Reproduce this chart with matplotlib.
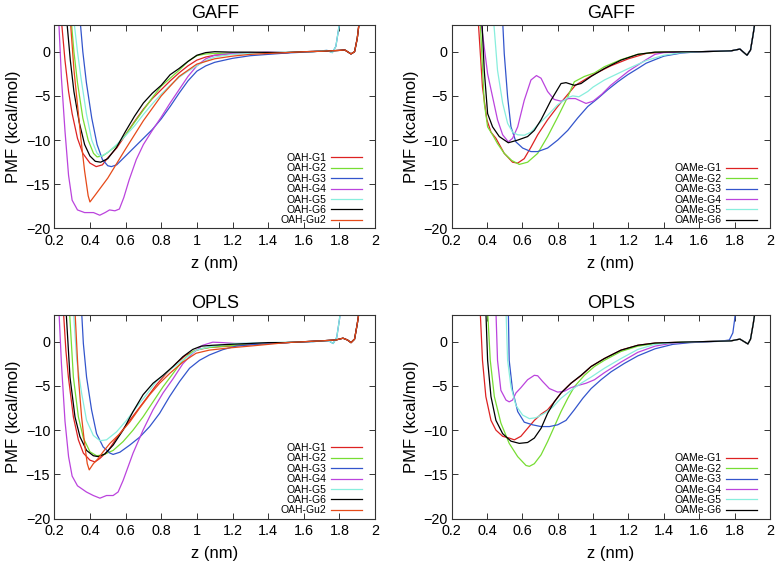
import matplotlib.pyplot as plt

plt.rcParams['font.family'] = ['Liberation Sans', 'DejaVu Sans']

# colours of the guests (gnuplot-like)
colors = ['#dd2222', '#77dd33', '#3355cc', '#bb44dd', '#88eedd', '#000000', '#e64a19']

# ---- GAFF / OAH ----
gaff_oah_g1 = [(0.24, 3.5), (0.26, -1), (0.28, -4.5), (0.30, -7), (0.33, -9.8), (0.36, -11.5), (0.40, -12.6),
               (0.435, -13.0), (0.47, -12.8), (0.50, -12.0), (0.55, -10.9), (0.60, -9.4), (0.65, -7.9), (0.70, -6.5),
               (0.75, -5.3), (0.80, -4.3), (0.85, -3.3), (0.90, -2.4), (0.95, -1.6), (1.00, -0.95), (1.05, -0.6),
               (1.10, -0.4), (1.20, -0.25), (1.30, -0.15)]
gaff_oah_g2 = [(0.295, 3.5), (0.31, 0), (0.33, -3.5), (0.36, -7.5), (0.39, -10), (0.42, -11.5), (0.44, -11.9),
               (0.47, -11.8), (0.50, -11.4), (0.55, -10.6), (0.60, -9.4), (0.65, -8.0), (0.70, -6.6), (0.75, -5.2),
               (0.80, -3.9), (0.85, -3.0), (0.90, -2.1), (0.95, -1.1), (1.00, -0.45), (1.05, -0.25), (1.10, -0.2),
               (1.20, -0.15), (1.30, -0.1)]
gaff_oah_g3 = [(0.345, 3.5), (0.36, 0), (0.38, -3.5), (0.41, -7.5), (0.44, -10.5), (0.47, -12.2), (0.50, -12.9),
               (0.52, -13.0), (0.55, -12.8), (0.60, -11.8), (0.65, -10.8), (0.70, -9.8), (0.75, -8.8), (0.80, -7.6),
               (0.85, -6.2), (0.90, -4.7), (0.95, -3.3), (1.00, -2.2), (1.05, -1.6), (1.10, -1.2), (1.20, -0.75),
               (1.30, -0.45), (1.40, -0.3), (1.50, -0.15), (1.60, -0.05)]
gaff_oah_g4 = [(0.225, 3.5), (0.24, -3), (0.26, -9), (0.28, -14), (0.30, -16.8), (0.33, -17.9), (0.37, -18.2),
               (0.42, -18.2), (0.455, -18.5), (0.485, -18.2), (0.51, -17.9), (0.54, -18.0), (0.565, -17.8),
               (0.59, -16.5), (0.62, -14.5), (0.66, -12.2), (0.70, -10.5), (0.75, -8.9), (0.80, -7.4), (0.85, -5.8),
               (0.90, -4.3), (0.95, -2.8), (1.00, -1.6), (1.05, -0.8), (1.10, -0.4), (1.20, -0.2), (1.40, -0.05)]
gaff_oah_g5 = [(0.31, 3.5), (0.33, 0), (0.35, -3), (0.38, -7), (0.41, -10), (0.44, -11.5), (0.46, -11.85),
               (0.50, -11.4), (0.55, -10.5), (0.60, -9.5), (0.65, -8.4), (0.70, -7.1), (0.75, -5.9), (0.80, -4.8),
               (0.85, -3.8), (0.90, -2.9), (0.95, -2.2), (1.00, -1.6), (1.05, -1.0), (1.10, -0.6), (1.20, -0.3),
               (1.40, -0.1), (1.60, 0.0)]
gaff_oah_g6 = [(0.27, 3.5), (0.29, -1), (0.31, -4.5), (0.34, -8), (0.37, -10.5), (0.40, -11.8), (0.43, -12.4),
               (0.46, -12.5), (0.50, -12.1), (0.55, -10.8), (0.60, -9.0), (0.65, -7.3), (0.70, -5.8), (0.75, -4.7),
               (0.80, -3.8), (0.85, -2.6), (0.90, -1.9), (0.95, -1.1), (1.00, -0.4), (1.05, -0.1), (1.10, 0.0),
               (1.20, -0.05), (1.30, -0.05)]
gaff_oah_gu2 = [(0.29, 3.5), (0.31, -2), (0.33, -6), (0.35, -10), (0.37, -13.5), (0.39, -16.3), (0.40, -17.0),
                (0.43, -16.2), (0.50, -14.3), (0.60, -11.0), (0.70, -7.8), (0.80, -5.0), (0.90, -2.8), (1.00, -1.4),
                (1.10, -0.8), (1.20, -0.5), (1.30, -0.3), (1.40, -0.2)]
gaff_oah_tail = [(1.5, -0.1), (1.6, 0.0), (1.7, 0.05), (1.75, 0.1), (1.8, 0.15), (1.83, 0.2), (1.865, -0.25),
                 (1.885, 0.0), (1.9, 1.5), (1.915, 4.0)]
gaff_oah_wall = [(1.65, 0.0), (1.7, 0.1), (1.73, 0.15), (1.76, -0.1), (1.78, 0.6), (1.795, 2.5), (1.81, 4.5)]

# ---- GAFF / OAMe ----
gaff_oame_g1 = [(0.351, 3.5), (0.375, -4.0), (0.40, -7.7), (0.423, -9.1), (0.451, -9.8), (0.498, -11.5),
                (0.545, -12.5), (0.574, -12.6), (0.611, -12.1), (0.649, -10.8), (0.687, -9.4), (0.743, -7.7),
                (0.80, -6.2), (0.85, -5.0), (0.90, -3.8), (1.00, -2.6), (1.10, -1.6), (1.20, -0.8), (1.30, -0.2),
                (1.40, -0.05)]
gaff_oame_g2 = [(0.362, 3.5), (0.385, -5.8), (0.404, -8.5), (0.432, -9.4), (0.46, -10.4), (0.498, -11.5),
                (0.54, -12.3), (0.583, -12.75), (0.63, -12.5), (0.687, -11.5), (0.743, -9.6), (0.80, -7.4),
                (0.857, -5.1), (0.894, -3.4), (0.951, -2.8), (1.008, -2.4), (1.064, -1.7), (1.158, -0.9),
                (1.253, -0.3), (1.35, -0.05)]
gaff_oame_g3 = [(0.489, 3.5), (0.498, -0.2), (0.517, -5.1), (0.536, -8.5), (0.564, -10.2), (0.602, -10.9),
                (0.649, -11.3), (0.687, -11.3), (0.743, -10.9), (0.80, -10.0), (0.857, -8.9), (0.913, -7.5),
                (0.97, -6.2), (1.026, -5.3), (1.083, -4.3), (1.14, -3.4), (1.196, -2.6), (1.253, -1.9),
                (1.30, -1.3), (1.40, -0.5), (1.50, -0.15)]
gaff_oame_g4 = [(0.366, 3.5), (0.404, -2.5), (0.432, -5.1), (0.46, -7.7), (0.489, -9.4), (0.521, -10.2),
                (0.545, -9.8), (0.574, -8.5), (0.611, -5.5), (0.649, -3.2), (0.68, -2.7), (0.706, -3.0),
                (0.743, -4.5), (0.78, -5.4), (0.82, -5.6), (0.86, -5.3), (0.90, -5.3), (0.96, -5.85), (1.00, -5.6),
                (1.05, -4.8), (1.10, -3.8), (1.20, -2.2), (1.30, -0.9), (1.35, -0.3), (1.40, -0.1)]
gaff_oame_g5 = [(0.438, 3.5), (0.46, -2.1), (0.489, -5.8), (0.517, -8.1), (0.545, -9.1), (0.574, -9.4),
                (0.611, -9.45), (0.649, -9.1), (0.687, -8.3), (0.743, -7.2), (0.80, -6.0), (0.857, -5.2),
                (0.885, -5.0), (0.92, -5.1), (0.97, -4.5), (1.00, -4.0), (1.064, -3.2), (1.158, -2.3), (1.20, -1.9),
                (1.30, -1.0), (1.40, -0.4), (1.50, -0.1)]
gaff_oame_g6 = [(0.372, 3.5), (0.385, -2.1), (0.404, -7.0), (0.432, -8.5), (0.47, -9.6), (0.521, -10.3),
                (0.574, -10.0), (0.63, -9.6), (0.668, -8.9), (0.706, -7.7), (0.762, -5.5), (0.819, -3.6),
                (0.847, -3.5), (0.894, -3.8), (0.932, -3.6), (0.989, -2.8), (1.064, -1.9), (1.158, -0.95),
                (1.253, -0.3), (1.35, -0.05)]
gaff_oame_tail = [(1.6, 0.0), (1.7, 0.05), (1.78, 0.1), (1.83, 0.3), (1.87, -0.4), (1.89, 0.2), (1.905, 2.0),
                  (1.92, 4.0)]

# ---- OPLS / OAH ----
opls_oah_g1 = [(0.251, 3.5), (0.265, -1), (0.279, -4.0), (0.307, -8.5), (0.335, -11.1), (0.363, -12.6),
               (0.40, -13.4), (0.428, -13.6), (0.456, -13.2), (0.503, -12.3), (0.549, -10.9), (0.605, -9.4),
               (0.661, -7.9), (0.717, -6.4), (0.772, -4.9), (0.828, -3.6), (0.884, -2.45), (0.94, -1.5),
               (0.996, -0.95), (1.07, -0.64), (1.182, -0.5), (1.294, -0.35), (1.40, -0.2)]
opls_oah_g2 = [(0.285, 3.5), (0.307, -4.0), (0.335, -8.5), (0.363, -10.9), (0.40, -12.45), (0.437, -12.9),
               (0.474, -12.8), (0.53, -12.3), (0.586, -11.3), (0.642, -10.0), (0.698, -8.5), (0.754, -6.8),
               (0.81, -5.1), (0.866, -3.6), (0.921, -2.1), (0.977, -1.1), (1.033, -0.75), (1.108, -0.57),
               (1.219, -0.4), (1.294, -0.26), (1.40, -0.15)]
opls_oah_g3 = [(0.353, 3.5), (0.363, -0.2), (0.381, -4.0), (0.409, -7.7), (0.437, -10.4), (0.474, -11.9),
               (0.512, -12.6), (0.53, -12.75), (0.568, -12.5), (0.623, -11.7), (0.679, -10.8), (0.735, -9.6),
               (0.791, -8.1), (0.847, -6.2), (0.903, -4.5), (0.959, -3.0), (1.015, -2.1), (1.07, -1.5),
               (1.145, -0.9), (1.219, -0.5), (1.294, -0.35), (1.40, -0.2), (1.55, -0.05)]
opls_oah_g4 = [(0.226, 3.5), (0.24, -2.5), (0.26, -9), (0.28, -13), (0.30, -15.2), (0.33, -16.3), (0.38, -17.0),
               (0.419, -17.4), (0.456, -17.7), (0.493, -17.4), (0.53, -17.4), (0.558, -17.0), (0.586, -15.7),
               (0.642, -12.6), (0.698, -10.0), (0.754, -7.7), (0.81, -5.8), (0.866, -4.2), (0.921, -2.5),
               (0.977, -1.3), (1.033, -0.4), (1.089, -0.05), (1.145, -0.1), (1.219, -0.2), (1.30, -0.2),
               (1.40, -0.1)]
opls_oah_g5 = [(0.307, 3.5), (0.326, -2.1), (0.353, -5.8), (0.381, -8.9), (0.419, -10.6), (0.456, -11.2),
               (0.493, -11.1), (0.549, -10.2), (0.605, -8.9), (0.661, -7.4), (0.717, -6.0), (0.772, -4.5),
               (0.847, -3.2), (0.921, -2.1), (0.996, -0.95), (1.07, -0.57), (1.145, -0.35), (1.219, -0.2),
               (1.40, -0.1), (1.60, 0.0)]
opls_oah_g6 = [(0.266, 3.5), (0.288, -4.0), (0.316, -8.5), (0.344, -10.75), (0.381, -12.3), (0.419, -12.9),
               (0.447, -13.0), (0.484, -12.7), (0.53, -11.7), (0.586, -10.0), (0.642, -7.9), (0.698, -6.0),
               (0.754, -4.7), (0.81, -3.8), (0.866, -2.8), (0.921, -1.7), (0.977, -0.87), (1.024, -0.5),
               (1.089, -0.4), (1.182, -0.3), (1.294, -0.2), (1.40, -0.1)]
opls_oah_gu2 = [(0.316, 3.5), (0.335, -4.0), (0.353, -8.5), (0.372, -11.9), (0.385, -13.8), (0.396, -14.5),
                (0.419, -13.8), (0.447, -13.2), (0.474, -12.45), (0.512, -11.5), (0.568, -10.4), (0.623, -9.1),
                (0.679, -7.5), (0.735, -6.0), (0.791, -4.7), (0.847, -3.6), (0.921, -2.3), (0.996, -1.3),
                (1.07, -0.95), (1.182, -0.7), (1.294, -0.5), (1.40, -0.3)]
opls_oah_tail = [(1.5, -0.1), (1.6, 0.0), (1.7, 0.1), (1.78, 0.2), (1.82, 0.4), (1.845, 0.2), (1.865, -0.1),
                 (1.885, 0.3), (1.9, 2.0), (1.915, 4.0)]
opls_oah_wall = [(1.65, 0.0), (1.7, 0.1), (1.74, 0.1), (1.765, -0.2), (1.785, 0.5), (1.80, 2.5), (1.812, 4.5)]

# ---- OPLS / OAMe ----
opls_oame_g1 = [(0.362, 3.5), (0.375, -2.1), (0.394, -6.2), (0.423, -8.9), (0.451, -10.0), (0.489, -10.7),
                (0.526, -10.9), (0.555, -11.1), (0.592, -10.7), (0.63, -9.8), (0.668, -8.9), (0.706, -8.2),
                (0.743, -7.7), (0.781, -6.8), (0.819, -5.8), (0.875, -4.7), (0.932, -3.85), (0.989, -2.8),
                (1.064, -1.9), (1.158, -0.95), (1.253, -0.4), (1.35, -0.15), (1.50, -0.05)]
opls_oame_g2 = [(0.404, 3.5), (0.419, -2.1), (0.442, -6.2), (0.479, -9.2), (0.526, -11.5), (0.574, -13.0),
                (0.621, -14.0), (0.64, -14.1), (0.668, -13.8), (0.706, -12.8), (0.743, -11.3), (0.781, -9.6),
                (0.819, -7.9), (0.857, -6.4), (0.894, -5.1), (0.951, -3.8), (1.008, -2.8), (1.064, -2.1),
                (1.158, -1.1), (1.253, -0.5), (1.35, -0.2), (1.50, -0.05)]
opls_oame_g3 = [(0.521, 3.5), (0.526, -2.1), (0.545, -5.5), (0.574, -7.9), (0.611, -9.1), (0.658, -9.4),
                (0.706, -9.6), (0.753, -9.6), (0.80, -9.4), (0.847, -8.9), (0.894, -7.7), (0.942, -6.4),
                (0.989, -5.3), (1.045, -4.3), (1.102, -3.4), (1.177, -2.45), (1.253, -1.6), (1.35, -0.8),
                (1.45, -0.3), (1.55, -0.1)]
opls_oame_g4 = [(0.451, 3.5), (0.46, -2.1), (0.479, -5.5), (0.508, -6.6), (0.526, -6.8), (0.545, -6.6),
                (0.564, -5.8), (0.592, -5.2), (0.63, -4.3), (0.668, -3.8), (0.687, -3.85), (0.715, -4.5),
                (0.753, -5.3), (0.80, -5.7), (0.838, -5.6), (0.875, -5.2), (0.923, -4.9), (0.96, -4.7),
                (1.008, -4.3), (1.064, -3.5), (1.158, -2.3), (1.253, -1.2), (1.35, -0.5), (1.45, -0.15)]
opls_oame_g5 = [(0.508, 3.5), (0.517, -2.1), (0.536, -5.1), (0.564, -7.2), (0.602, -8.3), (0.64, -8.7),
                (0.677, -8.6), (0.725, -8.1), (0.772, -7.4), (0.819, -6.4), (0.875, -5.5), (0.932, -4.7),
                (0.989, -4.0), (1.064, -3.0), (1.158, -1.9), (1.253, -0.87), (1.35, -0.3), (1.45, -0.1)]
opls_oame_g6 = [(0.394, 3.5), (0.404, -2.1), (0.423, -6.2), (0.451, -8.9), (0.489, -10.4), (0.536, -11.25),
                (0.583, -11.5), (0.63, -11.4), (0.668, -10.9), (0.706, -9.8), (0.743, -8.1), (0.781, -6.8),
                (0.819, -5.8), (0.875, -4.7), (0.932, -3.8), (0.989, -2.8), (1.064, -1.9), (1.158, -0.95),
                (1.253, -0.4), (1.35, -0.15), (1.50, -0.05)]
opls_oame_tail = [(1.6, 0.0), (1.7, 0.05), (1.78, 0.1), (1.83, 0.3), (1.875, -0.25), (1.89, 0.3), (1.905, 2.0),
                  (1.92, 4.0)]
opls_oame_wall = [(1.65, 0.0), (1.72, 0.05), (1.77, 0.2), (1.79, 1.0), (1.80, 2.5), (1.81, 4.5)]

oah_labels = ['OAH-G1', 'OAH-G2', 'OAH-G3', 'OAH-G4', 'OAH-G5', 'OAH-G6', 'OAH-Gu2']
oame_labels = ['OAMe-G1', 'OAMe-G2', 'OAMe-G3', 'OAMe-G4', 'OAMe-G5', 'OAMe-G6']

panels = [
    ('GAFF', [gaff_oah_g1 + gaff_oah_tail, gaff_oah_g2 + gaff_oah_tail, gaff_oah_g3 + gaff_oah_wall,
              gaff_oah_g4 + gaff_oah_tail, gaff_oah_g5 + gaff_oah_wall, gaff_oah_g6 + gaff_oah_tail,
              gaff_oah_gu2 + gaff_oah_tail], oah_labels),
    ('GAFF', [gaff_oame_g1 + gaff_oame_tail, gaff_oame_g2 + gaff_oame_tail, gaff_oame_g3 + gaff_oame_tail,
              gaff_oame_g4 + gaff_oame_tail, gaff_oame_g5 + gaff_oame_tail, gaff_oame_g6 + gaff_oame_tail],
     oame_labels),
    ('OPLS', [opls_oah_g1 + opls_oah_tail, opls_oah_g2 + opls_oah_tail, opls_oah_g3 + opls_oah_wall,
              opls_oah_g4 + opls_oah_tail, opls_oah_g5 + opls_oah_wall, opls_oah_g6 + opls_oah_tail,
              opls_oah_gu2 + opls_oah_tail], oah_labels),
    ('OPLS', [opls_oame_g1 + opls_oame_tail, opls_oame_g2 + opls_oame_tail, opls_oame_g3 + opls_oame_wall,
              opls_oame_g4 + opls_oame_tail, opls_oame_g5 + opls_oame_tail, opls_oame_g6 + opls_oame_tail],
     oame_labels),
]

xticks = [0.2, 0.4, 0.6, 0.8, 1.0, 1.2, 1.4, 1.6, 1.8, 2.0]
xticklabels = ['0.2', '0.4', '0.6', '0.8', '1', '1.2', '1.4', '1.6', '1.8', '2']
yticks = [0, -5, -10, -15, -20]

fig = plt.figure(figsize=(7.77, 5.65), dpi=100)
rects = [(0.0699, 0.5956, 0.4128, 0.3598), (0.5811, 0.5956, 0.4099, 0.3598),
         (0.0699, 0.0823, 0.4128, 0.3598), (0.5811, 0.0823, 0.4099, 0.3598)]
frame = '#333333'

for rect, (title, curves, labels) in zip(rects, panels):
    ax = fig.add_axes(rect)
    for pts, lab, col in zip(curves, labels, colors):
        zs = [p[0] for p in pts]
        ws = [p[1] for p in pts]
        ax.plot(zs, ws, color=col, lw=0.9, label=lab)
    ax.set_xlim(0.2, 2.0)
    ax.set_ylim(-20, 3)
    ax.set_xticks(xticks)
    ax.set_xticklabels(xticklabels)
    ax.set_yticks(yticks)
    ax.tick_params(direction='in', top=True, right=True, length=4, width=0.7, color=frame, labelsize=10.4)
    ax.tick_params(axis='x', pad=4)
    ax.tick_params(axis='y', pad=3)
    for s in ax.spines.values():
        s.set_color(frame)
        s.set_linewidth(0.8)
    ax.set_title(title, fontsize=13, pad=5.5)
    ax.set_xlabel('z (nm)', fontsize=12, labelpad=6)
    ax.set_ylabel('PMF (kcal/mol)', fontsize=12, labelpad=3)
    ax.legend(loc='lower right', bbox_to_anchor=(0.96, 0.015), markerfirst=False, frameon=False,
              fontsize=7.5, handlelength=3.0, handletextpad=0.45, labelspacing=0.04,
              borderpad=0, borderaxespad=0)

fig.savefig('out.png', dpi=100)
